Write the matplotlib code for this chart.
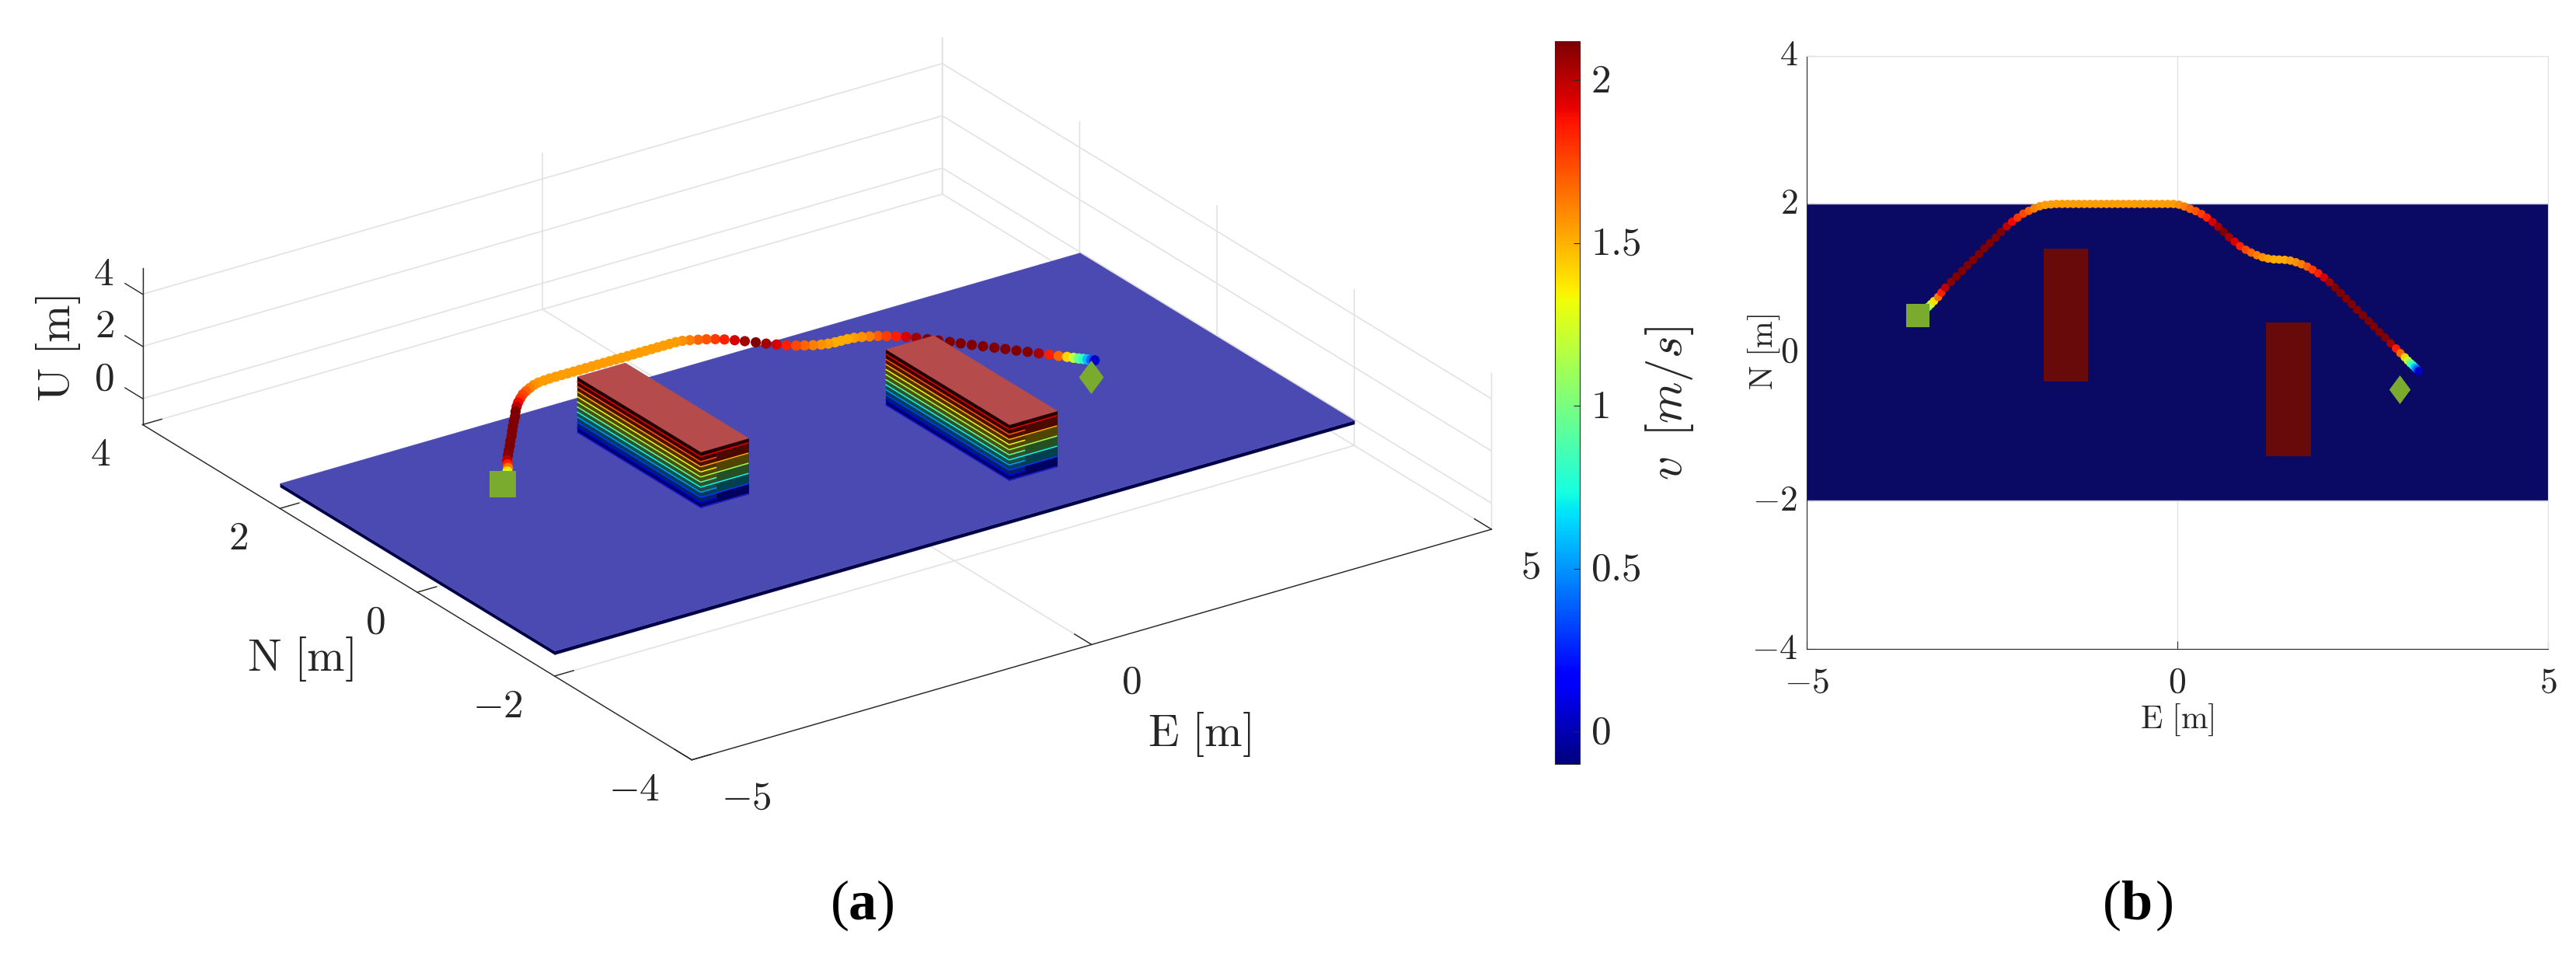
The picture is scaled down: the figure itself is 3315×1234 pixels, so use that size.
import numpy as np
import matplotlib
matplotlib.use('Agg')
import matplotlib.pyplot as plt
from matplotlib.patches import Rectangle
from matplotlib.colors import Normalize
from matplotlib.cm import ScalarMappable
from matplotlib.text import Text
from matplotlib.transforms import IdentityTransform, ScaledTranslation
from mpl_toolkits.mplot3d import proj3d
from mpl_toolkits.mplot3d.art3d import Poly3DCollection

plt.rcParams['mathtext.fontset'] = 'cm'
plt.rcParams['font.family'] = ['DejaVu Serif']

W, H = 3315, 1234

# ---------- data ----------
TRAJ_E = [-3.46,-3.435,-3.41,-3.385,-3.355,-3.32,-3.28,-3.225,-3.18,-3.128,-3.051,-2.978,-2.901,-2.828,-2.751,-2.677,
          -2.601,-2.527,-2.450,-2.377,-2.300,-2.227,-2.153,-2.077,-2.003,-1.930,-1.853,-1.780,-1.703,
          -1.628,-1.553,-1.478,-1.403,-1.328,-1.253,-1.178,-1.103,-1.028,-0.953,-0.878,-0.803,-0.728,-0.653,-0.578,
          -0.503,-0.428,-0.353,-0.278,-0.203,-0.128,-0.051,
          0.023,0.096,0.173,0.250,0.327,0.400,0.477,0.550,0.627,0.697,0.773,0.847,0.924,0.997,1.074,1.151,1.224,1.301,
          1.374,1.451,1.525,1.601,1.675,1.752,1.825,1.902,1.979,2.052,2.129,2.202,2.279,2.352,2.426,2.502,2.579,2.653,
          2.726,2.803,2.876,2.950,3.009,3.068,3.110,3.145,3.177,3.205,3.229,3.254]
TRAJ_N = [0.51,0.535,0.56,0.585,0.615,0.65,0.69,0.745,0.805,0.872,0.949,1.022,1.096,1.173,1.246,1.323,
          1.400,1.473,1.546,1.623,1.697,1.760,1.815,1.868,1.906,1.938,1.969,1.987,1.994,
          2.0,2.0,2.0,2.0,2.0,2.0,2.0,2.0,2.0,2.0,2.0,2.0,2.0,2.0,2.0,
          2.0,2.0,2.0,2.0,2.0,2.0,2.0,
          1.99,1.966,1.934,1.903,1.864,1.816,1.756,1.693,1.623,1.553,1.491,1.431,1.382,1.344,1.309,1.281,1.263,1.253,
          1.250,1.246,1.236,1.214,1.187,1.155,1.113,1.064,1.008,0.945,0.872,0.799,0.722,0.648,0.572,0.498,0.421,0.348,
          0.271,0.198,0.121,0.051,-0.012,-0.068,-0.113,-0.148,-0.176,-0.204,-0.229,-0.253]
TRAJ_V = [0.05,0.4,0.6,0.8,0.95,1.2,1.4,1.65,1.85,2.0,2.1,2.12,2.12,2.12,2.12,2.12,
          2.12,2.12,2.12,2.12,2.0,1.9,1.8,1.75,1.68,1.62,1.58,1.55,1.55,
          1.55,1.55,1.55,1.55,1.55,1.55,1.55,1.55,1.55,1.55,1.55,1.55,1.55,1.55,1.55,
          1.55,1.55,1.55,1.55,1.55,1.55,1.55,
          1.58,1.62,1.68,1.72,1.78,1.85,1.95,2.05,2.12,2.05,1.95,1.85,1.75,1.68,1.62,1.58,1.55,1.52,
          1.52,1.52,1.55,1.58,1.62,1.7,1.78,1.85,1.95,2.05,2.12,2.12,2.12,2.12,2.12,2.12,2.12,2.12,
          2.12,2.12,2.05,1.85,1.68,1.42,1.2,0.95,0.8,0.6,0.4,0.05]
TRAJ_U = 1.0
V_MIN, V_MAX = -0.1, 2.12

START = (-3.5, 0.5, 1.0)
GOAL = (3.0, -0.5, 1.0)

PLATE_E = (-5, 5)
PLATE_N = (-2, 2)
PLATE_U = (-0.17, -0.03)

OBST_E = [(-1.8, -1.2), (1.2, 1.8)]
OBST_N = [(-0.4, 1.4), (-1.4, 0.4)]
LEVELS = [0.06, 0.255, 0.45, 0.645, 0.84, 1.035, 1.23, 1.425, 1.62, 1.815, 2.01, 2.2]
FINE = ['#000070', '#00206a', '#003c5c', '#14504a', '#2c5230', '#4a5010',
        '#524600', '#503000', '#4a1000', '#3a0000', '#220000']
COARSE = ['#000060', '#00404f', '#255025', '#504500', '#4a0800', '#2b0000']

E_TICKS = [-5, 0, 5]
N_TICKS = [-4, -2, 0, 2, 4]
U_TICKS = [0, 2, 4]
CB_TICKS = [0, 0.5, 1, 1.5, 2]
CB_LABELS = ['$0$', '$0.5$', '$1$', '$1.5$', '$2$']

PLATE_TOP = '#4a4ab2'
PLATE_SIDE = '#000048'
OBST_TOP = '#b54b4b'
MARK = '#7aab2e'
GRID = '#e2e2e2'
INK = '#262626'

def lab(v):
    return '$%d$' % v

cmap = plt.get_cmap('jet')
norm = Normalize(V_MIN, V_MAX)

fig = plt.figure(figsize=(W / 100, H / 100), dpi=100)
shift = lambda dx, dy: ScaledTranslation(dx / 100, dy / 100, fig.dpi_scale_trans)

# ---------- 3D panel ----------
side = 2200
def rect3d(cx, cy):
    return [(cx - side / 2) / W, (H - cy - side / 2) / H, side / W, side / H]

ax = fig.add_axes(rect3d(1051, 513), projection='3d', proj_type='ortho', computed_zorder=False)
ax.patch.set_visible(False)
ax.view_init(elev=24.8, azim=-124.5)
aspect = (1249, 1248, 222)
zoom = 1.0
ax.set_box_aspect(aspect, zoom=zoom)
ax.set_xlim(-5, 5); ax.set_ylim(-4, 4); ax.set_zlim(-1, 5)

def px(x, y, z):
    X, Y, _ = proj3d.proj_transform(x, y, z, ax.get_proj())
    return ax.transData.transform((X, Y))

targets = {(-5, 4, -1): (183.5, 546.5), (-5, -4, -1): (890, 977.5),
           (5, -4, -1): (1919.4, 681.4), (5, 4, -1): (1213, 249.6)}
cx, cy = 1051.0, 513.0
for _ in range(3):
    ax.apply_aspect()
    p = np.array([px(*k) for k in targets])
    t = np.array([(v[0], H - v[1]) for v in targets.values()])
    zoom *= np.linalg.norm(t[2] - t[0]) / np.linalg.norm(p[2] - p[0])
    ax.set_box_aspect(aspect, zoom=zoom)
    ax.apply_aspect()
    p = np.array([px(*k) for k in targets])
    d = t.mean(axis=0) - p.mean(axis=0)
    cx += d[0]; cy -= d[1]
    ax.set_position(rect3d(cx, cy))
ax.apply_aspect()

def poly(pts, color, z):
    c = Poly3DCollection([pts], facecolor=color, edgecolor=color, linewidth=0.2, zorder=z)
    ax.add_collection3d(c, autolim=False)

# plate
e0, e1 = PLATE_E; n0, n1 = PLATE_N; u0, u1 = PLATE_U
poly([(e0, n0, u0), (e0, n1, u0), (e0, n1, u1), (e0, n0, u1)], PLATE_SIDE, 2)
poly([(e0, n0, u0), (e1, n0, u0), (e1, n0, u1), (e0, n0, u1)], PLATE_SIDE, 2)
poly([(e0, n0, u1), (e1, n0, u1), (e1, n1, u1), (e0, n1, u1)], PLATE_TOP, 3)

# trajectory
ax.scatter(TRAJ_E, TRAJ_N, [TRAJ_U] * len(TRAJ_E), c=TRAJ_V, cmap=cmap, norm=norm, s=90,
           linewidths=0, depthshade=False, zorder=4)

# obstacles
z = 5
lv = len(LEVELS) - 1
for (a, b), (c, d) in zip(OBST_E, OBST_N):
    third = a + (b - a) / 3
    for k in range(lv):
        lo, hi = LEVELS[k], LEVELS[k + 1]
        poly([(a, c, lo), (a, d, lo), (a, d, hi), (a, c, hi)], FINE[k], z)
        poly([(a, c, lo), (third, c, lo), (third, c, hi), (a, c, hi)], FINE[k], z)
    for j, k in enumerate(range(0, lv, 2)):
        lo, hi = LEVELS[k], LEVELS[min(k + 2, lv)]
        poly([(third, c, lo), (b, c, lo), (b, c, hi), (third, c, hi)], COARSE[j], z)
    z += 1
    for k in range(lv):
        col = cmap(k / lv)
        if k == 0:
            col = '#2020d0'
        ax.plot([a, a], [d, c], [LEVELS[k]] * 2, color=col, lw=1.1, zorder=z, solid_capstyle='butt')
        xe = b if k % 2 == 0 else third
        ax.plot([a, xe], [c, c], [LEVELS[k]] * 2, color=col, lw=1.1, zorder=z, solid_capstyle='butt')
    z += 1
    poly([(a, c, LEVELS[-1]), (b, c, LEVELS[-1]), (b, d, LEVELS[-1]), (a, d, LEVELS[-1])], OBST_TOP, z)
    z += 1

# start / goal
DIAMOND = [(0, 1), (0.74, 0), (0, -1), (-0.74, 0)]
ax.scatter(*[[v] for v in START], marker='s', s=635, color=MARK, linewidths=0, depthshade=False, zorder=z)
ax.scatter(*[[v] for v in GOAL], marker=DIAMOND, s=960, color=MARK, linewidths=0, depthshade=False, zorder=z)

# 3D axes styling
ax.set_xticks(E_TICKS); ax.set_yticks(N_TICKS); ax.set_zticks(U_TICKS)
ax.set_xticklabels([lab(v) for v in E_TICKS], fontsize=37, color=INK)
ax.set_yticklabels([lab(v) for v in N_TICKS], fontsize=37, color=INK)
ax.set_zticklabels([lab(v) for v in U_TICKS], fontsize=37, color=INK)
ax.zaxis._get_tickdir = lambda pos: 1   # U ticks run along N, as in the reference
for axis, lbl, rot, f in ((ax.xaxis, r'$\mathrm{E}\ [\mathrm{m}]$', 0, 0.39),
                          (ax.yaxis, r'$\mathrm{N}\ [\mathrm{m}]$', 0, 0.30),
                          (ax.zaxis, r'$\mathrm{U}\ [\mathrm{m}]$', 90, 0.40)):
    axis.set_pane_color((1, 1, 1, 0))
    axis.pane.set_edgecolor((1, 1, 1, 0))
    axis.line.set_color(INK)
    axis.line.set_linewidth(1.0)
    axis._axinfo['grid'].update(color=GRID, linewidth=1.2)
    axis._axinfo['tick'].update(inward_factor=0.0, outward_factor=f)
    axis._axinfo['tick']['linewidth'] = {True: 1.0, False: 1.0}
    axis.set_rotate_label(False)
    axis.set_label_text(lbl, fontsize=42, color=INK, rotation=rot, ha='center', va='center')
ax.tick_params(axis='both', pad=6, color=INK)
ax.grid(True)

def pin(text, x_px, y_px, ha, va):
    """Fix a 3D tick label at a place given in picture pixels."""
    Text.set_position(text, (x_px, H - y_px))
    Text.set_transform(text, IdentityTransform())
    text.set_ha(ha); text.set_va(va)
    keep = lambda *_: None
    text.set_position = keep
    text.set_transform = keep
    text.set_x = keep
    text.set_y = keep

def pin_label(text, x_px, y_px):
    """Place a 3D axis label in picture pixels just before it is drawn."""
    def draw(renderer):
        Text.set_transform(text, IdentityTransform())
        Text.set_position(text, (x_px, H - y_px))
        text.set_ha('center'); text.set_va('center')
        Text.draw(text, renderer)
    text.draw = draw

for v, tk in zip(E_TICKS, ax.xaxis.get_major_ticks()):
    q = px(v, -4, -1)
    pin(tk.label1, q[0] + 38, H - q[1] + 49, 'left', 'center')
for v, tk in zip(N_TICKS, ax.yaxis.get_major_ticks()):
    q = px(-5, v, -1)
    pin(tk.label1, q[0] - 41, H - q[1] + 39, 'right', 'center')
for v, tk in zip(U_TICKS, ax.zaxis.get_major_ticks()):
    q = px(-5, 4, v)
    pin(tk.label1, q[0] - 37, H - q[1] - 25, 'right', 'center')
pin_label(ax.xaxis.label, 1543, 945)
pin_label(ax.yaxis.label, 386.5, 848)
pin_label(ax.zaxis.label, 74.7, 449)

# ---------- colorbar ----------
cax = fig.add_axes([2001.4 / W, (H - 983.4) / H, (2033 - 2001.4) / W, (983.4 - 53) / H])
cb = fig.colorbar(ScalarMappable(norm=norm, cmap=cmap), cax=cax)
cb.set_ticks(CB_TICKS, labels=CB_LABELS)
cax.tick_params(direction='in', length=6, width=0.8, labelsize=37, labelcolor=INK, pad=10, color=INK)
cb.outline.set_edgecolor(INK); cb.outline.set_linewidth(0.8)
cb.set_label(r'$v\ \,[m/s]$', fontsize=44, color=INK, rotation=90, ha='center', va='center')
cax.yaxis.set_label_coords((2149 - 2001.4) / 31.6, (983.4 - 519.5) / 930.4)
for tk in cax.yaxis.get_major_ticks():
    tk.label2.set_transform(tk.label2.get_transform() + shift(0, 4))

# ---------- 2D panel ----------
ax2 = fig.add_axes([2324.7 / W, (H - 834.9) / H, (3279 - 2324.7) / W, (834.9 - 71.6) / H])
ax2.set_xlim(-5, 5); ax2.set_ylim(-4, 4)
ax2.set_axisbelow(True)
ax2.grid(True, color=GRID, lw=1.0)
ax2.add_patch(Rectangle((PLATE_E[0], PLATE_N[0]), PLATE_E[1] - PLATE_E[0], PLATE_N[1] - PLATE_N[0],
                        facecolor='#0a0a64', edgecolor='none', zorder=2))
ax2.hlines(PLATE_N, PLATE_E[0], PLATE_E[1], color='#c8c8d8', lw=1.0, zorder=2.5)
for (a, b), (c, d) in zip(OBST_E, OBST_N):
    ax2.add_patch(Rectangle((a, c), b - a, d - c, facecolor='#690a0a', edgecolor='none', zorder=3))
ax2.scatter(TRAJ_E, TRAJ_N, c=TRAJ_V, cmap=cmap, norm=norm, s=60, linewidths=0, zorder=4)
ax2.scatter(START[0], START[1], marker='s', s=466, color=MARK, linewidths=0, zorder=5)
ax2.scatter(GOAL[0], GOAL[1], marker=DIAMOND, s=710, color=MARK, linewidths=0, zorder=5)
ax2.set_xticks(E_TICKS, labels=[lab(v) for v in E_TICKS])
ax2.set_yticks(N_TICKS, labels=[lab(v) for v in N_TICKS])
ax2.tick_params(direction='in', length=7, width=0.8, labelsize=33, labelcolor=INK, color=INK, pad=8,
                top=False, right=False)
for s_ in ('top', 'right'):
    ax2.spines[s_].set_color(GRID)
for s_ in ('left', 'bottom'):
    ax2.spines[s_].set_color(INK)
ax2.set_xlabel(r'$\mathrm{E}\ [\mathrm{m}]$', fontsize=30, color=INK, ha='center', va='center')
ax2.set_ylabel(r'$\mathrm{N}\ [\mathrm{m}]$', fontsize=30, color=INK, ha='center', va='center')
ax2.xaxis.set_label_coords(0.5, (834.9 - 926) / 763.3)
ax2.yaxis.set_label_coords((2270 - 2324.7) / 954.3, 0.5)
for tk in ax2.xaxis.get_major_ticks():
    tk.label1.set_transform(tk.label1.get_transform() + shift(0, -9))
for tk in ax2.yaxis.get_major_ticks():
    tk.label1.set_transform(tk.label1.get_transform() + shift(0, 5))

# ---------- captions ----------
def caption(x0, x1, x2, letter):
    y = (H - 1182.7) / H
    kw = dict(fontsize=52, family='Liberation Serif', va='baseline', color='k')
    fig.text(x0 / W, y, '(', **kw)
    fig.text(x1 / W, y, letter, weight='bold', **kw)
    fig.text(x2 / W, y, ')', **kw)
caption(1069, 1092, 1128, 'a')
caption(2706, 2729, 2774, 'b')

fig.savefig('out.png', dpi=100)
